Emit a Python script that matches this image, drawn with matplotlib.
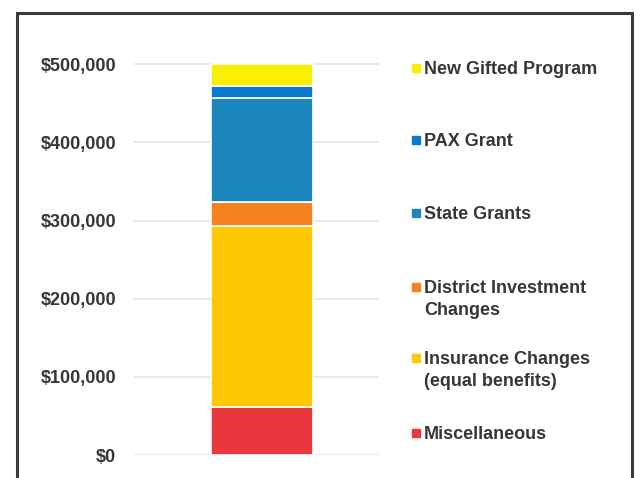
import matplotlib
matplotlib.use("Agg")
import matplotlib.pyplot as plt
from matplotlib.patches import Rectangle
from matplotlib.ticker import FuncFormatter

# 数据 (自下而上堆叠)
categories = ["Miscellaneous", "Insurance Changes\n(equal benefits)",
              "District Investment\nChanges", "State Grants", "PAX Grant",
              "New Gifted Program"]
amounts = [62000, 231000, 31000, 133000, 15000, 28000]
colors = ["#E8383D", "#FFC805", "#F5821F", "#1A86BC", "#0A78CC", "#F8F000"]
y_ticks = [0, 100000, 200000, 300000, 400000, 500000]

plt.rcParams['font.family'] = ['Liberation Sans', 'DejaVu Sans']
text_color = "#363636"

fig = plt.figure(figsize=(6.41, 4.78), dpi=100)
ax = fig.add_axes([0.209, 0.048, 0.382, 0.826])

bottom = 0
for amt, col in zip(amounts, colors):
    ax.bar(0, amt, bottom=bottom, width=0.416, color=col,
           edgecolor="white", linewidth=1.2, zorder=3)
    bottom += amt

ax.set_xlim(-0.522, 0.478)
ax.set_ylim(0, 505000)
ax.set_yticks(y_ticks)
ax.yaxis.set_major_formatter(FuncFormatter(lambda v, p: f"${v:,.0f}"))
ax.tick_params(axis='y', length=0, pad=13, labelsize=13, labelcolor=text_color)
ax.set_xticks([])
ax.grid(axis='y', color="#E4E4E4", linewidth=1.2, zorder=0)
for s in ax.spines.values():
    s.set_visible(False)
for lbl in ax.get_yticklabels():
    lbl.set_fontweight('bold')

# 图例 (手动排列, 顺序与堆叠相反)
legend_y = [68, 140, 213, 287, 358, 433]  # 每项首行中心 (像素)
for i, (label, col) in enumerate(zip(categories[::-1], colors[::-1])):
    yf = 1 - legend_y[i] / 478
    fig.patches.append(Rectangle((412 / 641, yf - 4 / 478), 8 / 641, 8 / 478,
                                 transform=fig.transFigure, color=col,
                                 figure=fig))
    fig.text(424 / 641, yf + 7 / 478, label, ha='left', va='top',
             fontsize=13, fontweight='bold', color=text_color,
             linespacing=1.35)

# 外框
fig.patches.append(Rectangle((17 / 641, -0.05), 615 / 641, 1.05 - 13 / 478,
                             transform=fig.transFigure, fill=False,
                             edgecolor="#3A3A3A", linewidth=2.2, figure=fig))

plt.savefig("out.png", dpi=100)
plt.close()
